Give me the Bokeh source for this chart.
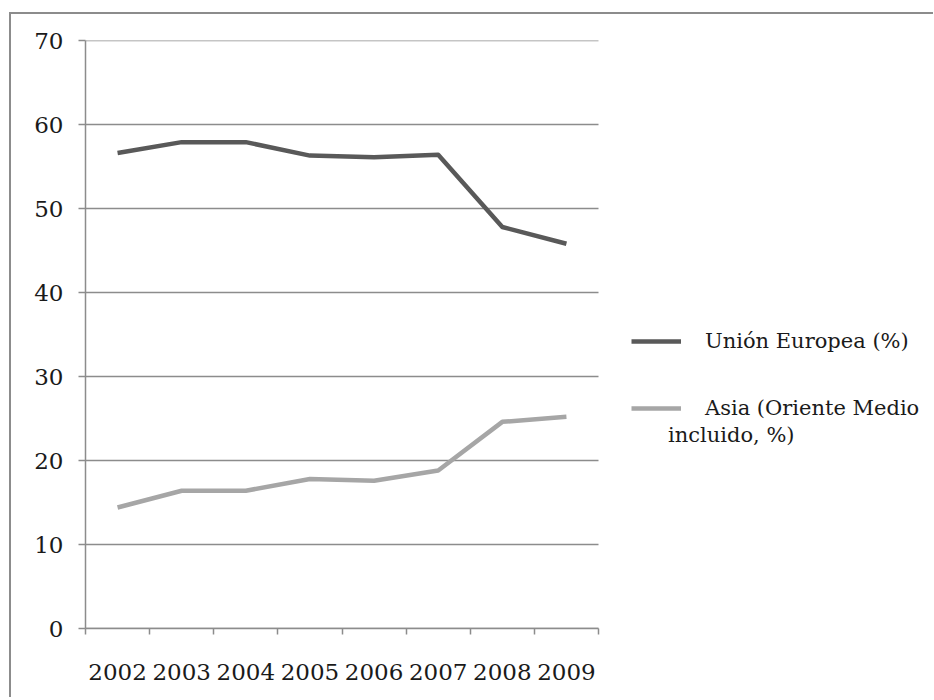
from bokeh.plotting import figure
from bokeh.models import FixedTicker, Legend, LegendItem, Range1d
from bokeh.embed import file_html
from bokeh.resources import INLINE

years = ["2002", "2003", "2004", "2005", "2006", "2007", "2008", "2009"]
ue = [56.6, 57.9, 57.9, 56.3, 56.1, 56.4, 47.8, 45.8]
asia = [14.4, 16.4, 16.4, 17.8, 17.6, 18.8, 24.6, 25.2]
y_ticks = [0, 10, 20, 30, 40, 50, 60, 70]
label_ue = "Unión Europea (%)"
label_asia_1 = "Asia (Oriente Medio"
label_asia_2 = "incluido, %)"

FONT = "DejaVu Serif"
GRID = "#8c8c8c"
TXT = "#1a1a1a"

n = len(years)
xs = [i + 0.5 for i in range(n)]

# plot area of the chart is 513 px wide; the frame is widened to 848 px so the
# legend (drawn to the right of the chart) is not clipped
CHART_W, FRAME_W = 513, 848

p = figure(frame_width=FRAME_W, frame_height=588, output_backend="svg", toolbar_location=None,
           x_range=Range1d(0, n * FRAME_W / CHART_W), y_range=Range1d(0, 70),
           min_border_left=74, min_border_top=26, min_border_bottom=69,
           min_border_right=0)
p.styles = {"margin-left": "9px", "margin-top": "12px",
            "border-left": "2px solid #8c8c8c", "border-top": "2px solid #8c8c8c"}
p.outline_line_color = None

# horizontal grid lines, limited to the chart area
p.segment(x0=[0] * len(y_ticks), x1=[n] * len(y_ticks), y0=y_ticks, y1=y_ticks,
          line_color=GRID, line_width=1.5)
p.ygrid.grid_line_color = None
p.xgrid.grid_line_color = None

r1 = p.line(xs, ue, line_color="#595959", line_width=4.5, line_join="round")
r2 = p.line(xs, asia, line_color="#a6a6a6", line_width=4.5, line_join="round")
r_blank = p.line(xs[:1], asia[:1], line_alpha=0)

# x axis: labels centred on categories, tick marks on category boundaries
p.xaxis.bounds = (0, n)
p.xaxis.ticker = FixedTicker(ticks=xs, minor_ticks=list(range(n + 1)))
p.xaxis.major_label_overrides = {x: y for x, y in zip(xs, years)}
p.xaxis.major_tick_line_color = None
p.xaxis.major_tick_out = 0
p.xaxis.major_tick_in = 0
p.xaxis.minor_tick_out = 6
p.xaxis.minor_tick_in = 0
p.xaxis.minor_tick_line_color = GRID
p.xaxis.minor_tick_line_width = 1.5
p.xaxis.axis_line_color = GRID
p.xaxis.axis_line_width = 1.5
p.xaxis.major_label_standoff = 29

p.yaxis.ticker = FixedTicker(ticks=y_ticks)
p.yaxis.minor_tick_line_color = None
p.yaxis.major_tick_out = 7
p.yaxis.major_tick_in = 0
p.yaxis.major_tick_line_color = GRID
p.yaxis.major_tick_line_width = 1.5
p.yaxis.axis_line_color = GRID
p.yaxis.axis_line_width = 1.5
p.yaxis.major_label_standoff = 15

for ax in (p.xaxis, p.yaxis):
    ax.major_label_text_font = FONT
    ax.major_label_text_font_size = "23px"
    ax.major_label_text_color = TXT


def make_legend(items, loc, glyph_width=50, standoff=24):
    lg = Legend(items=items, location=loc)
    lg.label_text_font = FONT
    lg.label_text_font_size = "21px"
    lg.label_text_color = TXT
    lg.glyph_width = glyph_width
    lg.label_standoff = standoff
    lg.border_line_color = None
    lg.background_fill_alpha = 0
    lg.padding = 0
    lg.margin = 0
    return lg


p.add_layout(make_legend([LegendItem(label=label_ue, renderers=[r1])], (546, 275)))
p.add_layout(make_legend([LegendItem(label=label_asia_1, renderers=[r2])], (546, 208)))
p.add_layout(make_legend([LegendItem(label=label_asia_2, renderers=[r_blank])], (583, 181),
                         glyph_width=0, standoff=0))

open("out.html", "w").write(file_html(p, INLINE))
